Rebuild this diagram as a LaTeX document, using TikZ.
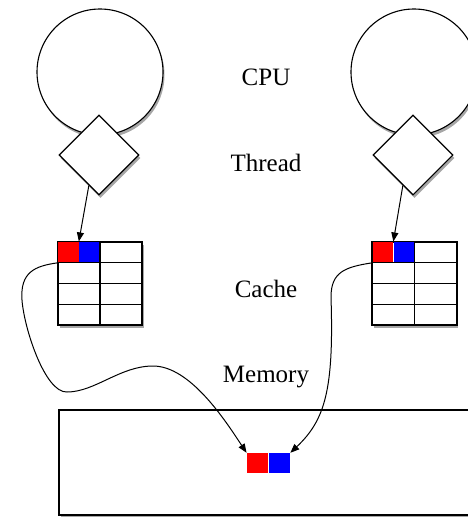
\documentclass[tikz,border=0pt]{standalone}
\usepackage{fontspec}
\setmainfont{Liberation Serif}
\usetikzlibrary{shapes.geometric,shadows,arrows.meta,calc}
\begin{document}
\begin{tikzpicture}[x=1pt,y=-1pt,
  shade/.style={drop shadow={shadow xshift=1.5pt,shadow yshift=-3pt,opacity=0.35,fill=black}},
  cpu/.style={circle,draw,line width=1.1pt,fill=white,minimum size=126pt,inner sep=0pt,shade},
  thread/.style={diamond,draw,line width=1.1pt,fill=white,minimum width=80pt,minimum height=80pt,inner sep=0pt,shade},
  cachebox/.style={rectangle,draw,line width=1.1pt,fill=white,minimum width=84pt,minimum height=83pt,inner sep=0pt,shade},
  membox/.style={rectangle,draw,line width=1.1pt,fill=white,minimum width=440pt,minimum height=105pt,inner sep=0pt,shade},
  cell/.style={rectangle,inner sep=0pt,minimum width=21pt,minimum height=21pt},
  mcell/.style={rectangle,inner sep=0pt,minimum width=21.5pt,minimum height=20pt},
  grid/.style={line width=1.1pt},
  lbl/.style={font=\fontsize{25}{30}\selectfont,anchor=base,inner sep=0pt},
  link/.style={line width=1pt,-{Triangle[length=9pt,width=7pt]}},
]
\clip (0,0) rectangle (468,517);
\fill[white] (0,0) rectangle (468,517);
% CPUs
\node[cpu] (cpuL) at (100,72) {};
\node[cpu] (cpuR) at (414,72) {};
% Threads
\node[thread] (thrL) at (99,155) {};
\node[thread] (thrR) at (413,155) {};
% Caches
\node[cachebox] (cacheL) at (100,283.5) {};
\node[cachebox] (cacheR) at (414.5,283.5) {};
\node[cell,fill=red,anchor=north west] (redL) at (cacheL.north west) {};
\node[cell,fill=blue,anchor=north west] (blueL) at (redL.north east) {};
\node[cell,fill=red,anchor=north west] (redR) at (cacheR.north west) {};
\node[cell,fill=blue,anchor=north west] (blueR) at (redR.north east) {};
\foreach \c in {cacheL,cacheR}{
  \draw[grid] (\c.north) -- (\c.south);
  \foreach \f in {0.25,0.5,0.75}{
    \draw[grid] ($(\c.north west)!\f!(\c.south west)$) -- ($(\c.north east)!\f!(\c.south east)$);
  }
  \draw[grid] (\c.north west) rectangle (\c.south east);
}
% Memory
\node[membox] (mem) at (279,462.5) {};
\node[mcell,fill=red] (memRed) at (257.5,463) {};
\node[mcell,fill=blue,anchor=west] (memBlue) at (memRed.east) {};
% Labels
\node[lbl] (lcpu) at (266,85) {CPU};
\node[lbl] (lthr) at (266,171) {Thread};
\node[lbl] (lcache) at (266,297) {Cache};
\node[lbl] (lmem) at (266,382) {Memory};
% Thread to cache arrows
\draw[link] ($(thrL.south)!0.25!(thrL.west)$) -- (redL.north east);
\draw[link] ($(thrR.south)!0.25!(thrR.west)$) -- (redR.north east);
% Cache to memory curves
\draw[link] (redL.south west) .. controls (35,266) and (20,272) .. (22,300)
  .. controls (24,328) and (45,393) .. (67,392)
  .. controls (95,392) and (120,366) .. (153,366)
  .. controls (190,366) and (225,420) .. (memRed.north west);
\draw[link] (redR.south west) .. controls (345,267) and (331,272) .. (331,297)
  .. controls (334,390) and (325,420) .. (memBlue.north east);
\end{tikzpicture}
\end{document}
